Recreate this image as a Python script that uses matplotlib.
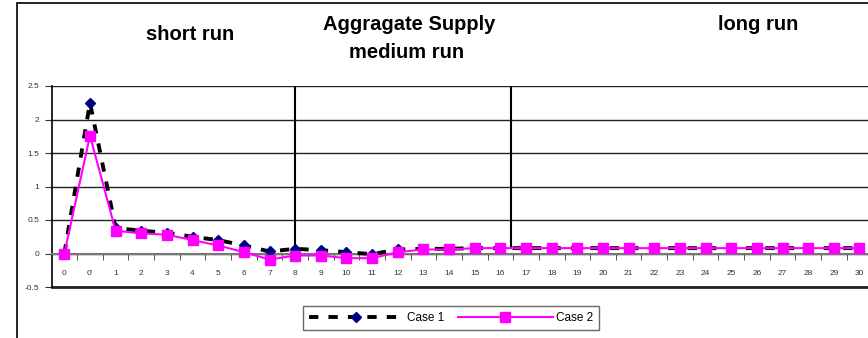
import numpy as np
import matplotlib
matplotlib.use("Agg")
import matplotlib.pyplot as plt
from matplotlib.patches import Rectangle

plt.rcParams['font.family'] = ['Liberation Sans', 'DejaVu Sans']

# categories on the x axis
periods = ['0', "0'"] + [str(i) for i in range(1, 31)]

case1 = [0.0, 2.25, 0.38, 0.34, 0.31, 0.25, 0.20, 0.12, 0.03, 0.07, 0.05,
         0.02, -0.01, 0.06, 0.07, 0.07] + [0.08] * 16
case2 = [0.0, 1.76, 0.34, 0.30, 0.28, 0.20, 0.12, 0.02, -0.09, -0.03, -0.03,
         -0.07, -0.07, 0.02, 0.06, 0.06] + [0.08] * 16

# where the run sections are split (category index)
dividers = [9, 17.4]

fig = plt.figure(figsize=(8.68, 3.38), dpi=100)
ax = fig.add_axes([51.5 / 868, 1 - 287 / 338, (872.3 - 51.5) / 868, (287 - 86) / 338])

x = np.arange(len(periods))
ax.plot(x, case1, color='black', lw=2.8, ls=(0, (2.4, 2.6)), marker='D',
        markersize=5.5, markerfacecolor='#000080', markeredgecolor='#000080',
        label='Case 1', zorder=3)
ax.plot(x, case2, color='#FF00FF', lw=1.5, marker='s', markersize=6.5,
        markerfacecolor='#FF00FF', markeredgecolor='#FF00FF', label='Case 2', zorder=4)

ax.set_xlim(-0.5, len(periods) - 0.5)
ax.set_ylim(-0.5, 2.5)
ax.set_yticks(np.arange(-0.5, 2.51, 0.5))
ax.set_yticklabels(['-0.5', '0', '0.5', '1', '1.5', '2', '2.5'])
ax.grid(axis='y', color='#222222', lw=1)
ax.set_axisbelow(True)

for d in dividers:
    ax.axvline(d, ymin=0.2, ymax=1, color='black', lw=1.5, zorder=2)

ax.spines['top'].set_visible(False)
ax.spines['right'].set_visible(False)
ax.spines['left'].set_color('black')
ax.spines['left'].set_linewidth(1.2)
ax.spines['bottom'].set_position(('data', 0))
ax.spines['bottom'].set_color('#777777')
ax.spines['bottom'].set_linewidth(1.5)
ax.axhline(-0.5, color='#222222', lw=2, clip_on=False)

ax.set_xticks(x)
ax.set_xticklabels(periods)
ax.set_xticks(x[:-1] + 0.5, minor=True)
ax.tick_params(axis='x', which='major', length=0, pad=12, labelsize=6, labelcolor='#333333')
ax.tick_params(axis='x', which='minor', length=4, direction='out', color='#333333')
ax.tick_params(axis='y', length=5, labelsize=6, labelcolor='#333333', color='#333333', pad=4)

title_font = dict(fontsize=14.5, fontweight='bold', ha='center', va='center')
fig.text(190 / 868, 1 - 35 / 338, 'short run', **title_font)
fig.text(409 / 868, 1 - 24 / 338, 'Aggragate Supply', **title_font)
fig.text(407 / 868, 1 - 52 / 338, 'medium run', **title_font)
fig.text(758 / 868, 1 - 24 / 338, 'long run', **title_font)

leg = fig.legend(loc='center', bbox_to_anchor=(451 / 868, 1 - 318 / 338), ncol=2,
                 fontsize=8.5, frameon=True, fancybox=False, handlelength=8,
                 columnspacing=1.2, handletextpad=0.3, borderpad=0.5)
leg.get_frame().set_edgecolor('#444444')
leg.get_frame().set_linewidth(1)

fig.patches.append(Rectangle((17 / 868, -0.1), 1.2, 1.1 - 3 / 338, fill=False,
                             transform=fig.transFigure, lw=1.2, edgecolor='black'))

fig.savefig('out.png', dpi=100)
